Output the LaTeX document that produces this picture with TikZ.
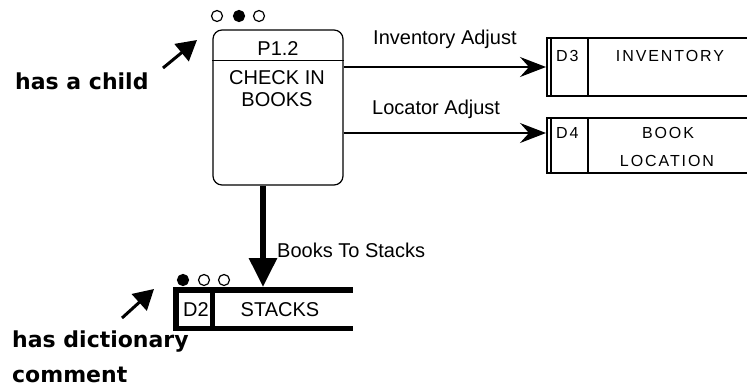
\documentclass[tikz,border=0pt]{standalone}
\usepackage{fontspec}
\setmainfont{Liberation Sans}
\newfontfamily\storefont[LetterSpace=12]{Liberation Sans}
\newfontfamily\notefont{DejaVu Sans}
\usetikzlibrary{arrows.meta}
\begin{document}
\begin{tikzpicture}[x=1pt,y=-1pt,
  proc/.style={draw,line width=1.2pt,rounded corners=9pt,minimum width=130pt,minimum height=155pt,inner sep=0pt},
  storebox/.style={minimum width=#1,inner sep=0pt,outer sep=0pt},
  txt/.style={font=\fontsize{20}{22}\selectfont,inner sep=0pt,anchor=base},
  stxt/.style={font=\storefont\fontsize{16}{18}\selectfont,inner sep=0pt,anchor=base},
  note/.style={font=\notefont\bfseries\fontsize{22}{24}\selectfont,inner sep=0pt,anchor=base west},
  flow/.style={line width=1.3pt,-{Stealth[length=26pt,width=20pt,inset=9pt]}},
  bigflow/.style={line width=6pt,-{Triangle[length=29pt,width=27pt]}},
  pointer/.style={line width=3pt,-{Triangle[length=20pt,width=22pt]}},
  dot/.style={draw,line width=1.2pt,circle,minimum size=11pt,inner sep=0pt},
]
\useasboundingbox (0,0) rectangle (747,389);
% process
\node[proc] (p) at (278,107.5) {};
\draw[line width=1.2pt] ([yshift=-31pt]p.north west) -- ([yshift=-31pt]p.north east);
\node[txt] (pid) at (278,55) {P1.2};
\node[txt] (pn1) at (277,84) {CHECK IN};
\node[txt] (pn2) at (277,106) {BOOKS};
\node[dot] (c1) at (217,16) {};
\node[dot,fill=black] (c2) at (239,16) {};
\node[dot] (c3) at (259,16) {};
% store D3
\node[storebox=201pt,minimum height=58pt] (d3) at (646.5,67) {};
\draw[line width=1.3pt] (d3.north west) -- (d3.north east) (d3.south west) -- (d3.south east);
\draw[line width=2pt] ([xshift=1pt]d3.north west) -- ([xshift=1pt]d3.south west);
\draw[line width=1.2pt] ([xshift=5pt]d3.north west) -- ([xshift=5pt]d3.south west);
\draw[line width=1.2pt] ([xshift=42pt]d3.north west) -- ([xshift=42pt]d3.south west);
\node[stxt,anchor=base west] (d3id) at (556,61) {D3};
\node[stxt] (d3n) at (670,61) {INVENTORY};
% store D4
\node[storebox=201pt,minimum height=55pt] (d4) at (646.5,145.5) {};
\draw[line width=1.3pt] (d4.north west) -- (d4.north east) (d4.south west) -- (d4.south east);
\draw[line width=2pt] ([xshift=1pt]d4.north west) -- ([xshift=1pt]d4.south west);
\draw[line width=1.2pt] ([xshift=5pt]d4.north west) -- ([xshift=5pt]d4.south west);
\draw[line width=1.2pt] ([xshift=42pt]d4.north west) -- ([xshift=42pt]d4.south west);
\node[stxt,anchor=base west] (d4id) at (556,138) {D4};
\node[stxt] (d4n1) at (668,138) {BOOK};
\node[stxt] (d4n2) at (667,166) {LOCATION};
% store D2
\node[storebox=180pt,minimum height=44pt] (d2) at (263,309) {};
\draw[line width=6pt] ([yshift=-3pt]d2.north west) -- ([yshift=-3pt]d2.north east);
\draw[line width=5pt] ([yshift=2.5pt]d2.south west) -- ([yshift=2.5pt]d2.south east);
\draw[line width=6pt] ([xshift=3pt]d2.north west) -- ([xshift=3pt]d2.south west);
\draw[line width=5pt] ([xshift=39pt]d2.north west) -- ([xshift=39pt]d2.south west);
\node[txt,anchor=base west] (d2id) at (183,316) {D2};
\node[txt] (d2n) at (280,316) {STACKS};
\node[dot,fill=black] (e1) at (183,280) {};
\node[dot] (e2) at (204,280) {};
\node[dot] (e3) at (224,280) {};
% flows
\draw[flow] (p.east |- d3.west) -- (d3.west);
\node[txt,anchor=base west] (l1) at (373,44) {Inventory Adjust};
\coordinate (d4in) at ([yshift=12.5pt]d4.west);
\draw[flow] (p.east |- d4in) -- (d4in);
\node[txt,anchor=base west] (l2) at (372,114) {Locator Adjust};
\coordinate (pout) at ([xshift=-15pt]p.south);
\draw[bigflow] (pout) -- (pout |- d2.north);
\node[txt,anchor=base west] (l3) at (277,257) {Books To Stacks};
% notes
\node[note] (n1) at (15,89) {has a child};
\coordinate (a1s) at (163,68);
\coordinate (a1e) at (197,40);
\draw[pointer] (a1s) -- (a1e);
\node[note] (n2) at (12,347) {has dictionary};
\node[note] (n3) at (12,382) {comment};
\coordinate (a2s) at (122,318);
\coordinate (a2e) at (154,289);
\draw[pointer] (a2s) -- (a2e);
\end{tikzpicture}
\end{document}
